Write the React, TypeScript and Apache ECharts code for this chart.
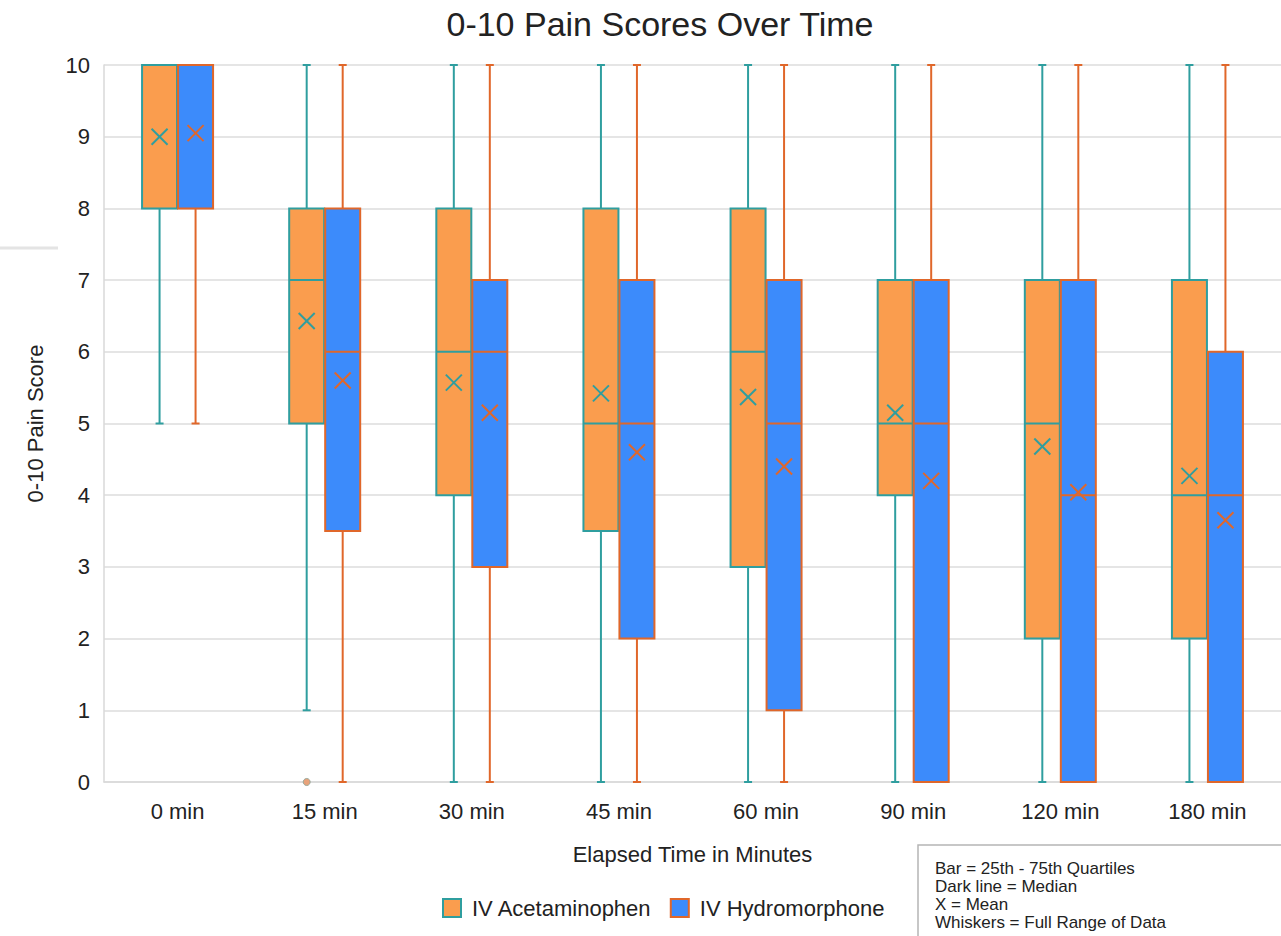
import React, { useEffect, useRef } from "react";
import * as echarts from "echarts";

const categories = ["0 min", "15 min", "30 min", "45 min", "60 min", "90 min", "120 min", "180 min"];
const yTicks = [0, 1, 2, 3, 4, 5, 6, 7, 8, 9, 10];
// [min, q1, median, q3, max, mean]
const acetaminophen = [
  [5, 8, 10, 10, 10, 9.0],
  [1, 5, 7, 8, 10, 6.43],
  [0, 4, 6, 8, 10, 5.57],
  [0, 3.5, 5, 8, 10, 5.42],
  [0, 3, 6, 8, 10, 5.37],
  [0, 4, 5, 7, 10, 5.15],
  [0, 2, 5, 7, 10, 4.68],
  [0, 2, 4, 7, 10, 4.27],
];
const hydromorphone = [
  [5, 8, 10, 10, 10, 9.05],
  [0, 3.5, 6, 8, 10, 5.6],
  [0, 3, 6, 7, 10, 5.15],
  [0, 2, 5, 7, 10, 4.6],
  [0, 1, 5, 7, 10, 4.4],
  [0, 0, 5, 7, 10, 4.2],
  [0, 0, 4, 7, 10, 4.04],
  [0, 0, 4, 6, 10, 3.65],
];
// [category index, value]
const acetaminophenOutliers = [[1, 0]];
const notes = [
  "Bar = 25th - 75th Quartiles",
  "Dark line = Median",
  "X = Mean",
  "Whiskers = Full Range of Data",
];

const TEAL = "#2f9e9f";
const ORANGE_FILL = "#fa9d4e";
const BLUE = "#3c8bfb";
const ORANGE_LINE = "#e0672a";
const FONT = "'Liberation Sans', Arial, sans-serif";

function makeBoxRender(offset: number, fill: string, line: string) {
  return (params: any, api: any) => {
    const cat = api.value(0);
    const vals = [1, 2, 3, 4, 5, 6].map((i) => api.value(i));
    const [mn, q1, med, q3, mx, mean] = vals;
    const center = api.coord([cat, 0])[0] + offset;
    const yMin = api.coord([cat, mn])[1];
    const yQ1 = api.coord([cat, q1])[1];
    const yMed = api.coord([cat, med])[1];
    const yQ3 = api.coord([cat, q3])[1];
    const yMax = api.coord([cat, mx])[1];
    const yMean = api.coord([cat, mean])[1];
    const hw = 17.5;
    const cap = 4;
    const ls = { stroke: line, lineWidth: 2 };
    const children: any[] = [];
    if (mx > q3) {
      children.push({ type: "line", shape: { x1: center, y1: yQ3, x2: center, y2: yMax }, style: ls });
      children.push({ type: "line", shape: { x1: center - cap, y1: yMax, x2: center + cap, y2: yMax }, style: ls });
    }
    if (mn < q1) {
      children.push({ type: "line", shape: { x1: center, y1: yQ1, x2: center, y2: yMin }, style: ls });
      children.push({ type: "line", shape: { x1: center - cap, y1: yMin, x2: center + cap, y2: yMin }, style: ls });
    }
    children.push({
      type: "rect",
      shape: { x: center - hw, y: yQ3, width: hw * 2, height: yQ1 - yQ3 },
      style: { fill, stroke: line, lineWidth: 2 },
    });
    children.push({ type: "line", shape: { x1: center - hw, y1: yMed, x2: center + hw, y2: yMed }, style: ls });
    const m = 8;
    children.push({ type: "line", shape: { x1: center - m, y1: yMean - m, x2: center + m, y2: yMean + m }, style: ls });
    children.push({ type: "line", shape: { x1: center - m, y1: yMean + m, x2: center + m, y2: yMean - m }, style: ls });
    return { type: "group", children };
  };
}

export default function App() {
  const ref = useRef<HTMLDivElement>(null);
  useEffect(() => {
    if (!ref.current) return;
    const chart = echarts.init(ref.current, null, { renderer: "svg" });
    const acetData = acetaminophen.map((d, i) => [i, ...d]);
    const hydroData = hydromorphone.map((d, i) => [i, ...d]);
    chart.setOption({
      animation: false,
      backgroundColor: "#ffffff",
      title: {
        text: "0-10 Pain Scores Over Time",
        left: 655,
        textAlign: "center",
        top: 2,
        textStyle: { fontFamily: FONT, fontSize: 34, fontWeight: "normal", color: "#222" },
      },
      grid: { left: 104, right: -5, top: 65, bottom: 154 },
      legend: {
        left: 437,
        top: 892,
        itemWidth: 18,
        itemHeight: 18,
        itemGap: 18,
        textStyle: { fontFamily: FONT, fontSize: 22, color: "#222", padding: [0, 0, 0, 6] },
        data: [
          { name: "IV Acetaminophen", icon: "rect", itemStyle: { color: ORANGE_FILL, borderColor: TEAL, borderWidth: 2 } },
          { name: "IV Hydromorphone", icon: "rect", itemStyle: { color: BLUE, borderColor: ORANGE_LINE, borderWidth: 2 } },
        ],
      },
      xAxis: {
        type: "category",
        data: categories,
        boundaryGap: true,
        axisTick: { show: false },
        axisLine: { show: true, lineStyle: { color: "#d9d9d9", width: 1.5 } },
        axisLabel: { fontFamily: FONT, fontSize: 22, color: "#222", margin: 18 },
        name: "Elapsed Time in Minutes",
        nameLocation: "middle",
        nameGap: 61,
        nameTextStyle: { fontFamily: FONT, fontSize: 22, color: "#222" },
      },
      yAxis: {
        type: "value",
        min: yTicks[0],
        max: yTicks[yTicks.length - 1],
        interval: 1,
        axisLine: { show: true, lineStyle: { color: "#d9d9d9", width: 1.5 } },
        axisTick: { show: false },
        splitLine: { lineStyle: { color: "#dcdcdc", width: 1.5 } },
        axisLabel: { fontFamily: FONT, fontSize: 22, color: "#222", margin: 14 },
        name: "0-10 Pain Score",
        nameLocation: "middle",
        nameGap: 58,
        nameRotate: 90,
        nameTextStyle: { fontFamily: FONT, fontSize: 22, color: "#222" },
      },
      graphic: [
        { type: "line", shape: { x1: 0, y1: 248, x2: 58, y2: 248 }, style: { stroke: "#e4e4e4", lineWidth: 3 } },
        {
          type: "rect",
          shape: { x: 918, y: 845, width: 380, height: 110 },
          style: { fill: "#ffffff", stroke: "#b5b5b5", lineWidth: 1.5 },
        },
        ...notes.map((t, i) => ({
          type: "text",
          x: 935,
          y: 860 + i * 18,
          style: { text: t, fontFamily: FONT, fontSize: 17, fill: "#222" },
        })),
      ],
      series: [
        {
          name: "IV Acetaminophen",
          type: "custom",
          renderItem: makeBoxRender(-18, ORANGE_FILL, TEAL),
          encode: { x: 0, y: [1, 2, 3, 4, 5] },
          itemStyle: { color: ORANGE_FILL, borderColor: TEAL },
          data: acetData,
          z: 3,
        },
        {
          name: "IV Hydromorphone",
          type: "custom",
          renderItem: makeBoxRender(18, BLUE, ORANGE_LINE),
          encode: { x: 0, y: [1, 2, 3, 4, 5] },
          itemStyle: { color: BLUE, borderColor: ORANGE_LINE },
          data: hydroData,
          z: 3,
        },
        {
          name: "outliers",
          type: "custom",
          renderItem: (params: any, api: any) => {
            const p = api.coord([api.value(0), api.value(1)]);
            return {
              type: "circle",
              shape: { cx: p[0] - 18, cy: p[1], r: 3.5 },
              style: { fill: "#e8a27a", stroke: "#9aa89a", lineWidth: 1 },
            };
          },
          encode: { x: 0, y: 1 },
          data: acetaminophenOutliers,
          z: 4,
        },
      ],
    });
    return () => chart.dispose();
  }, []);
  return <div ref={ref} style={{ position: "fixed", left: 0, top: 0, width: 1281, height: 936 }} />;
}
